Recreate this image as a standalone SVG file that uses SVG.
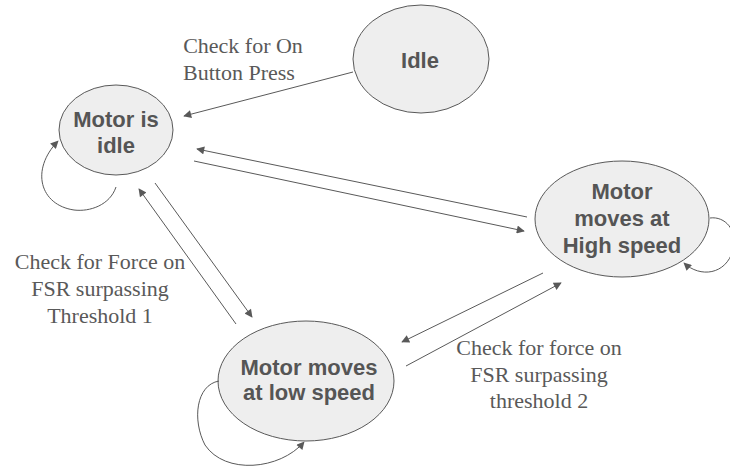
<svg xmlns="http://www.w3.org/2000/svg" width="730" height="471" viewBox="0 0 730 471">
<defs>
<style>
.node ellipse{fill:#eeeeee;stroke:#595959;stroke-width:1}
.node text{font-family:"Liberation Sans",Arial,sans-serif;font-weight:bold;font-size:22px;fill:#555555;text-anchor:middle}
.lbl{font-family:"Liberation Serif","Times New Roman",serif;font-size:22px;fill:#595959;text-anchor:middle}
#connectors path{fill:none;stroke:#595959;stroke-width:1;marker-end:url(#arr)}
</style>
<marker id="arr" viewBox="0 0 10 10" refX="9" refY="5" markerWidth="10" markerHeight="8" markerUnits="userSpaceOnUse" orient="auto">
<path d="M0,0 L10,5 L0,10 Z" fill="#595959"/>
</marker>
</defs>
<rect width="730" height="471" fill="#ffffff"/>
<g id="idle" class="node">
<ellipse cx="421" cy="59" rx="68" ry="54"/>
<text x="420" y="68">Idle</text>
</g>
<g id="motor-idle" class="node">
<ellipse cx="116" cy="130" rx="57" ry="45"/>
<text x="116" y="127">Motor is</text>
<text x="116" y="153">idle</text>
</g>
<g id="high-speed" class="node">
<ellipse cx="622" cy="219" rx="87" ry="58"/>
<text x="622" y="199">Motor</text>
<text x="622" y="226">moves at</text>
<text x="622" y="253">High speed</text>
</g>
<g id="low-speed" class="node">
<ellipse cx="306" cy="381" rx="88" ry="60"/>
<text x="309" y="375">Motor moves</text>
<text x="309" y="400">at low speed</text>
</g>
<g id="connectors">
<path d="M353,72 L184,116"/>
<path d="M527,217 L197,149"/>
<path d="M194,161 L524,231"/>
<path d="M236,324 L139,189"/>
<path d="M155,183 L252,317"/>
<path d="M543,273 L402,342"/>
<path d="M406,366 L561,283"/>
<path d="M116,187 C110,205 90,212 74,210 C40,205 30,170 58,141"/>
<path d="M710,218 C725,216 738,230 733,250 C726,275 700,278 684,263"/>
<path d="M219,381 C196,385 192,420 205,445 C225,475 280,470 304,442"/>
</g>
<g id="labels">
<text class="lbl" x="243" y="53">Check for On</text>
<text class="lbl" x="239" y="80">Button Press</text>
<text class="lbl" x="100" y="269">Check for Force on</text>
<text class="lbl" x="100" y="296">FSR surpassing</text>
<text class="lbl" x="100" y="323">Threshold 1</text>
<text class="lbl" x="539" y="355">Check for force on</text>
<text class="lbl" x="539" y="382">FSR surpassing</text>
<text class="lbl" x="539" y="408">threshold 2</text>
</g>
</svg>
